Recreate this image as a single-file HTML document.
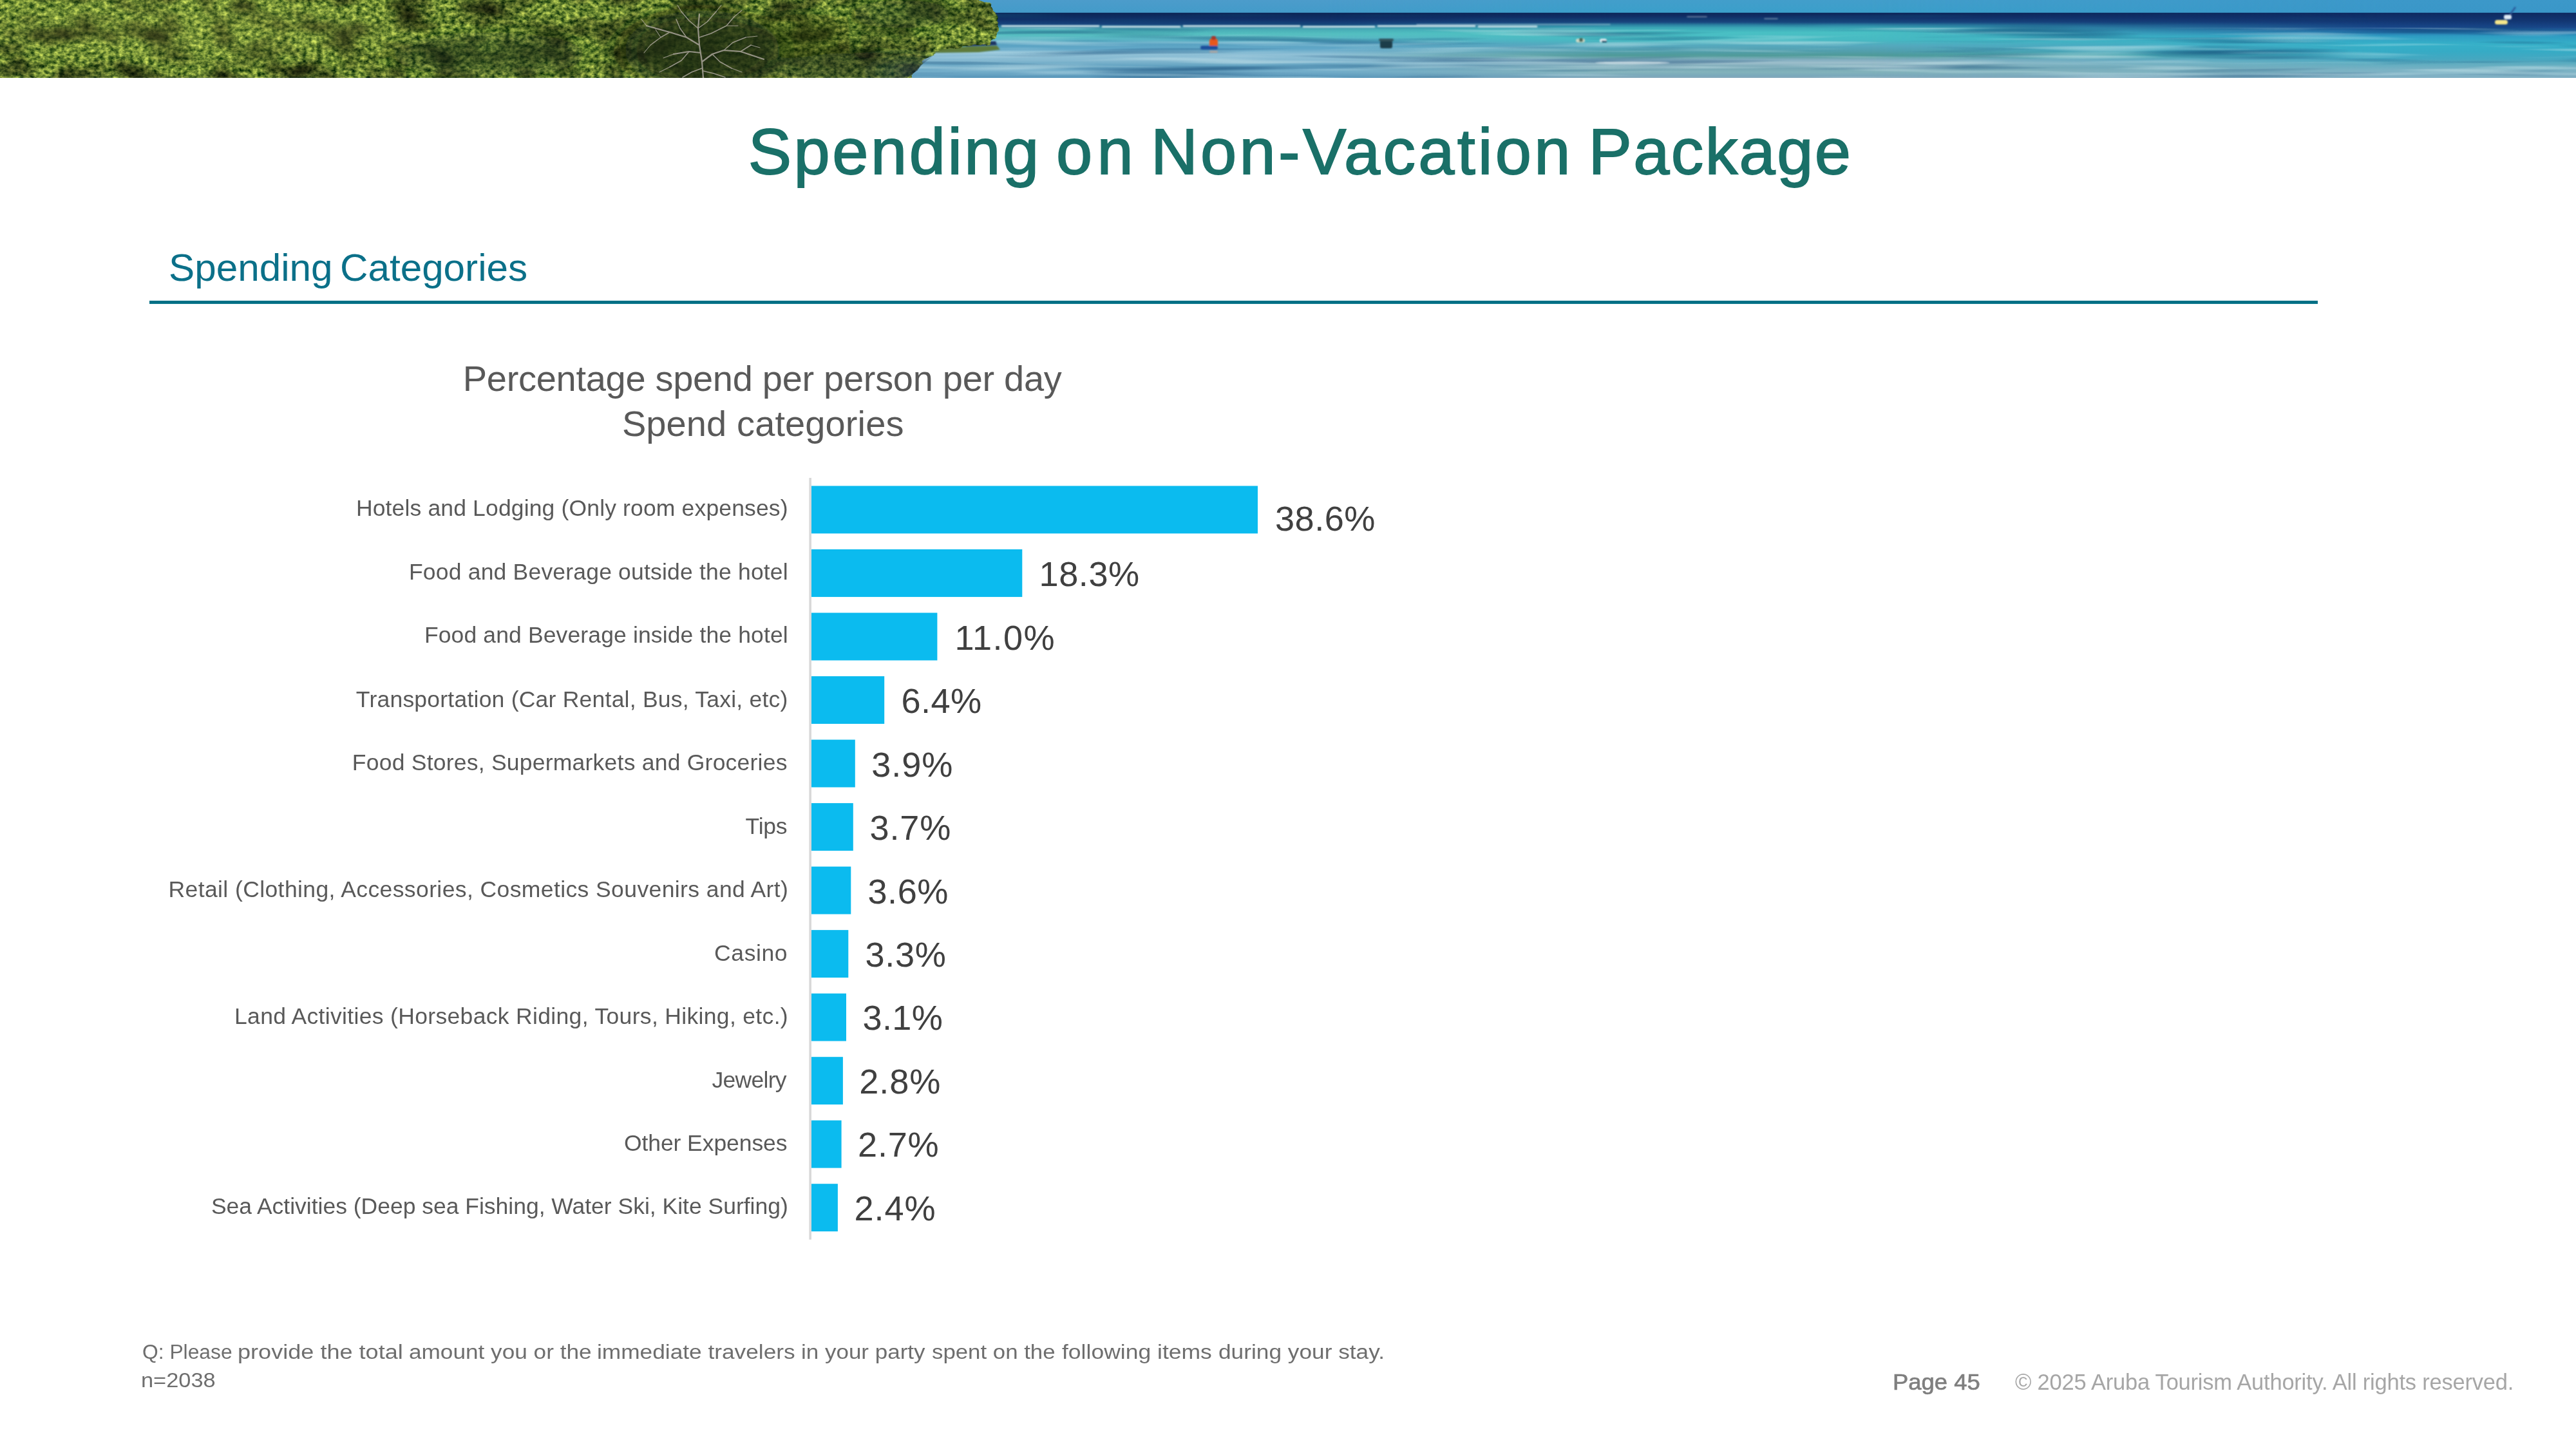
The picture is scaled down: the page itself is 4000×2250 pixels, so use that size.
<!DOCTYPE html>
<html lang="en">
<head>
<meta charset="utf-8">
<title>Spending on Non-Vacation Package</title>
<style>
html,body{margin:0;padding:0;background:#fff;}
body{width:4000px;height:2250px;position:relative;overflow:hidden;font-family:"Liberation Sans", sans-serif;}
.t{position:absolute;white-space:nowrap;transform-origin:0 0;font-family:"Liberation Sans", sans-serif;font-kerning:normal;}
#txt{position:absolute;left:0;top:0;width:4000px;height:2250px;will-change:transform;}
#chart{position:absolute;left:0;top:0;display:block;}
#banner{position:absolute;left:0;top:0;width:4000px;height:120.75px;overflow:hidden;background:#3f9fc4;}

</style>
</head>
<body>
<div id="banner">
<svg width="4000" height="121" viewBox="0 0 4000 121" preserveAspectRatio="none" style="position:absolute;left:0;top:0;display:block">
<defs>
<linearGradient id="seaL" x1="0" y1="0" x2="0" y2="120.5" gradientUnits="userSpaceOnUse">
<stop offset="0" stop-color="#4c9ccb"/><stop offset="0.160" stop-color="#439bc9"/><stop offset="0.168" stop-color="#0c2656"/>
<stop offset="0.25" stop-color="#103068"/><stop offset="0.31" stop-color="#17447c"/><stop offset="0.345" stop-color="#2e7f9f"/>
<stop offset="0.38" stop-color="#48acb6"/><stop offset="0.44" stop-color="#55bfc0"/><stop offset="0.50" stop-color="#5ab6c4"/>
<stop offset="0.56" stop-color="#58a2c2"/><stop offset="0.63" stop-color="#62a7c7"/><stop offset="0.70" stop-color="#8fc0d6"/>
<stop offset="0.78" stop-color="#84b8d0"/><stop offset="0.85" stop-color="#62a2c1"/><stop offset="0.92" stop-color="#74aeca"/><stop offset="1" stop-color="#5896b9"/>
</linearGradient>
<linearGradient id="seaM" x1="0" y1="0" x2="0" y2="120.5" gradientUnits="userSpaceOnUse">
<stop offset="0" stop-color="#429ecb"/><stop offset="0.160" stop-color="#3b9fca"/><stop offset="0.168" stop-color="#0d2759"/>
<stop offset="0.23" stop-color="#12316a"/><stop offset="0.285" stop-color="#19477e"/><stop offset="0.32" stop-color="#2a7fa0"/><stop offset="0.355" stop-color="#3aa5b5"/>
<stop offset="0.42" stop-color="#49c0c4"/><stop offset="0.52" stop-color="#48b9c2"/><stop offset="0.59" stop-color="#56a8bd"/>
<stop offset="0.655" stop-color="#529fae"/><stop offset="0.715" stop-color="#4f9a98"/><stop offset="0.77" stop-color="#83aec0"/>
<stop offset="0.81" stop-color="#9cbecb"/><stop offset="0.87" stop-color="#74a5b3"/><stop offset="0.93" stop-color="#82b2bb"/><stop offset="0.98" stop-color="#7aa8bb"/><stop offset="1" stop-color="#86a9bb"/>
</linearGradient>
<linearGradient id="seaR" x1="0" y1="0" x2="0" y2="120.5" gradientUnits="userSpaceOnUse">
<stop offset="0" stop-color="#3c98c9"/><stop offset="0.160" stop-color="#3a97c8"/><stop offset="0.168" stop-color="#0e2a60"/>
<stop offset="0.27" stop-color="#123672"/><stop offset="0.35" stop-color="#184688"/><stop offset="0.415" stop-color="#2472aa"/><stop offset="0.465" stop-color="#2e9cc2"/>
<stop offset="0.565" stop-color="#36b0c8"/><stop offset="0.665" stop-color="#36abc5"/><stop offset="0.765" stop-color="#46a7c0"/>
<stop offset="0.83" stop-color="#62adc0"/><stop offset="0.9" stop-color="#7ab2c4"/><stop offset="1" stop-color="#82b0c4"/>
</linearGradient>
<linearGradient id="fadeL" x1="1400" y1="0" x2="2500" y2="0" gradientUnits="userSpaceOnUse"><stop offset="0" stop-color="#fff"/><stop offset="0.6" stop-color="#fff"/><stop offset="1" stop-color="#000"/></linearGradient>
<linearGradient id="fadeR" x1="2900" y1="0" x2="3700" y2="0" gradientUnits="userSpaceOnUse"><stop offset="0" stop-color="#000"/><stop offset="1" stop-color="#fff"/></linearGradient>
<mask id="mL" maskUnits="userSpaceOnUse" x="0" y="0" width="4000" height="121"><rect x="0" y="0" width="4000" height="121" fill="url(#fadeL)"/></mask>
<mask id="mR" maskUnits="userSpaceOnUse" x="0" y="0" width="4000" height="121"><rect x="0" y="0" width="4000" height="121" fill="url(#fadeR)"/></mask>
<filter id="leaf" x="0" y="0" width="1600" height="121" filterUnits="userSpaceOnUse" color-interpolation-filters="sRGB">
<feTurbulence type="fractalNoise" baseFrequency="0.13 0.16" numOctaves="3" seed="11" result="n"/>
<feColorMatrix in="n" type="matrix" values="1.15 0 0 0 -0.15  1.05 0 0 0 0.01  0.5 0 0 0 -0.05  0 0 0 0 1" result="c"/>
<feTurbulence type="fractalNoise" baseFrequency="0.018 0.03" numOctaves="2" seed="5" result="n2"/>
<feColorMatrix in="n2" type="matrix" values="1.6 0 0 0 0.04  1.6 0 0 0 0.04  1.6 0 0 0 0.04  0 0 0 0 1" result="m"/>
<feBlend in="c" in2="m" mode="multiply" result="cm"/>
<feTurbulence type="fractalNoise" baseFrequency="0.05 0.07" numOctaves="2" seed="5" result="n3"/>
<feDisplacementMap in="SourceGraphic" in2="n3" scale="14" xChannelSelector="R" yChannelSelector="G" result="d"/>
<feComposite in="cm" in2="d" operator="in"/>
</filter>
<clipPath id="fclip"><path d="M0,0 L1520,0 L1545,10 L1550,22 L1552,48 L1549,60 L1543,68 L1500,72 L1455,80 L1445,90 L1432,100 L1424,110 L1408,121 L0,121Z"/></clipPath>
<filter id="blur8" x="-200" y="-100" width="2200" height="400" filterUnits="userSpaceOnUse"><feGaussianBlur stdDeviation="26 14"/></filter>
<filter id="blur2" x="-20" y="-20" width="4100" height="200" filterUnits="userSpaceOnUse"><feGaussianBlur stdDeviation="1.2"/></filter>
<filter id="strL" x="1400" y="43" width="2600" height="78" filterUnits="userSpaceOnUse" color-interpolation-filters="sRGB">
<feTurbulence type="fractalNoise" baseFrequency="0.0035 0.11" numOctaves="2" seed="21"/>
<feColorMatrix type="matrix" values="0 0 0 0 0.86  0 0 0 0 0.95  0 0 0 0 0.96  1.5 0 0 0 -0.77"/>
</filter>
<filter id="strD" x="1400" y="21" width="2600" height="100" filterUnits="userSpaceOnUse" color-interpolation-filters="sRGB">
<feTurbulence type="fractalNoise" baseFrequency="0.003 0.09" numOctaves="2" seed="4"/>
<feColorMatrix type="matrix" values="0 0 0 0 0.06  0 0 0 0 0.27  0 0 0 0 0.45  -1.7 0 0 0 0.8"/>
</filter>
</defs>
<rect x="0" y="0" width="4000" height="121" fill="url(#seaM)"/>
<rect x="0" y="0" width="4000" height="121" fill="url(#seaL)" mask="url(#mL)"/>
<rect x="0" y="0" width="4000" height="121" fill="url(#seaR)" mask="url(#mR)"/>
<rect x="1400" y="21" width="2600" height="100" fill="#fff" filter="url(#strD)"/>
<rect x="1400" y="43" width="2600" height="78" fill="#fff" filter="url(#strL)"/>
<!-- reflection strip under the mangrove -->
<g filter="url(#blur2)">
<path d="M1440,74 L1548,71 L1553,77 L1520,81 L1450,82Z" fill="#5f7a3a"/>
<path d="M1500,66 L1546,64 L1548,70 L1500,72Z" fill="#1d3560"/>
<!-- swimmer -->
<rect x="1878" y="60" width="13" height="13" rx="4" fill="#e8581f"/><rect x="1881" y="56" width="7" height="6" rx="2.5" fill="#a8382a"/><rect x="1864" y="71" width="27" height="6" rx="3" fill="#1c4f9c"/><rect x="1878" y="79" width="13" height="3" rx="1.5" fill="#d9a58c" opacity=".6"/>
<!-- boat -->
<rect x="2143" y="63" width="19" height="12" rx="3" fill="#1d3c4a"/><rect x="2141" y="60" width="23" height="4" rx="2" fill="#31525c"/>
<!-- distant swimmers -->
<rect x="2447" y="60" width="14" height="6" rx="3" fill="#c9d6c4"/><rect x="2452" y="59" width="6" height="6" rx="2" fill="#4d6b5c"/>
<rect x="2484" y="60" width="11" height="6" rx="3" fill="#dfeaf0"/><rect x="2487" y="63" width="8" height="3" rx="1" fill="#2f5a70"/>
<!-- buoy -->
<rect x="3874" y="31" width="20" height="7" rx="3.5" fill="#f4e58a"/><rect x="3888" y="23" width="12" height="7" rx="3" fill="#dfeaf4"/><path d="M3898,22 L3906,11" stroke="#2b5a9a" stroke-width="2.5"/>
<!-- foam streaks -->
<ellipse cx="2535" cy="97.5" rx="58" ry="2" fill="#e9f4f5" opacity=".7"/>
<path d="M1556,40.5 h150 M1712,41.5 h120 M1838,40.5 h180 M2024,41.5 h110 M2140,40.5 h150 M2296,41.2 h90" stroke="#e6f2f4" stroke-width="3" stroke-linecap="round" opacity=".8"/>
<path d="M2200,38 h300 M2620,26 h30 M2740,29 h20" stroke="#dbe9f0" stroke-width="1.5" stroke-linecap="round" opacity=".5"/>
</g>
<!-- foliage -->
<g filter="url(#leaf)"><path d="M-20,-20 L1512,-20 L1518,0 L1540,9 L1546,22 L1548,48 L1545,60 L1538,68 L1495,72 L1452,80 L1441,90 L1428,100 L1420,110 L1404,140 L-20,140Z" fill="#5d8a2e"/></g>
<g clip-path="url(#fclip)" filter="url(#blur8)">
<ellipse cx="1090" cy="78" rx="120" ry="62" fill="#16260f" opacity=".8"/>
<ellipse cx="1330" cy="108" rx="120" ry="26" fill="#14240f" opacity=".5"/>
<ellipse cx="760" cy="85" rx="150" ry="35" fill="#1b3012" opacity=".4"/>
<ellipse cx="1400" cy="22" rx="80" ry="22" fill="#1b3012" opacity=".45"/>
<ellipse cx="1250" cy="60" rx="70" ry="40" fill="#1b3012" opacity=".3"/>
<ellipse cx="300" cy="45" rx="320" ry="45" fill="#c3d65a" opacity=".14"/>
<ellipse cx="1430" cy="113" rx="60" ry="12" fill="#243a5a" opacity=".6"/>
</g>
<g clip-path="url(#fclip)" fill="none" stroke="#b5ada6" stroke-linecap="round" stroke-linejoin="round" opacity=".78">
<path stroke-width="2.2" d="M1092,121 L1090,96 L1086,70 L1084,44 L1086,22 M1090,96 L1106,84 L1124,78 L1150,80 L1186,92 M1086,70 L1066,58 L1040,50 L1004,40 M1088,82 L1070,80 L1046,84"/>
<path stroke-width="1.5" d="M1084,44 L1070,32 L1058,18 M1084,44 L1098,34 L1112,18 M1086,58 L1104,52 L1128,40 L1140,26 M1066,58 L1056,44 L1050,30 M1040,50 L1026,58 L1010,70 M1124,78 L1138,66 L1158,58 M1106,84 L1118,96 L1136,106 M1150,80 L1166,70 M1070,80 L1058,94 L1040,104 M1090,106 L1074,112 L1060,120 M1091,110 L1108,114 L1126,120"/>
<path stroke-width="1.1" d="M1058,18 L1052,8 M1112,18 L1120,8 M1128,40 L1146,40 M1004,40 L996,30 M1010,70 L1000,82 M1158,58 L1176,56 M1136,106 L1152,112 M1040,104 L1024,112 M1026,58 L1018,46 M1140,26 L1152,16 M1166,70 L1180,74 M1046,84 L1030,90"/>
</g>
</svg>
</div>

<svg id="chart" width="4000" height="2250" viewBox="0 0 4000 2250"><rect x="232" y="466.9" width="3367" height="5" fill="#006f85"/><rect x="1256.4" y="742" width="3.5" height="1182.8" fill="#d8d8d8"/><g fill="#0bbbef"><rect x="1260" y="754.5" width="693" height="73.9"/><rect x="1260" y="853.02" width="327.3" height="73.9"/><rect x="1260" y="951.54" width="195.4" height="73.9"/><rect x="1260" y="1050.06" width="113.2" height="73.9"/><rect x="1260" y="1148.58" width="67.8" height="73.9"/><rect x="1260" y="1247.1" width="64.8" height="73.9"/><rect x="1260" y="1345.62" width="61.3" height="73.9"/><rect x="1260" y="1444.14" width="57.3" height="73.9"/><rect x="1260" y="1542.66" width="54" height="73.9"/><rect x="1260" y="1641.18" width="48.9" height="73.9"/><rect x="1260" y="1739.7" width="46.6" height="73.9"/><rect x="1260" y="1838.22" width="40.9" height="73.9"/></g></svg>
<div id="txt">
<span class="t" style="left:1161.7px;top:185px;font-size:101px;line-height:101px;color:#1a7068;letter-spacing:3.53px;-webkit-text-stroke:1.8px #1a7068;">Spending </span>
<span class="t" style="left:1639.9px;top:185px;font-size:101px;line-height:101px;color:#1a7068;letter-spacing:7.43px;-webkit-text-stroke:1.8px #1a7068;">on </span>
<span class="t" style="left:1786.9px;top:185px;font-size:101px;line-height:101px;color:#1a7068;letter-spacing:4.28px;-webkit-text-stroke:1.8px #1a7068;">Non-Vacation </span>
<span class="t" style="left:2466.4px;top:185px;font-size:101px;line-height:101px;color:#1a7068;letter-spacing:2.42px;-webkit-text-stroke:1.8px #1a7068;">Package</span>
<span class="t" style="left:261.96px;top:387px;font-size:59px;line-height:59px;color:#0b7089;transform:scaleX(1.0211);">Spending </span>
<span class="t" style="left:527.64px;top:387px;font-size:59px;line-height:59px;color:#0b7089;transform:scaleX(1.0202);">Categories</span>
<span class="t" style="left:718.8px;top:560px;font-size:56px;line-height:56px;color:#595959;letter-spacing:-0.3px;">Percentage spend per person per day</span>
<span class="t" style="left:965.9px;top:630px;font-size:56px;line-height:56px;color:#595959;letter-spacing:0.11px;">Spend categories</span>
<span class="t" style="left:552.9px;top:772px;font-size:35.5px;line-height:35.5px;color:#595959;letter-spacing:0.15px;">Hotels and Lodging (Only room expenses)</span>
<span class="t" style="left:635px;top:871px;font-size:35.5px;line-height:35.5px;color:#595959;letter-spacing:0.19px;">Food and Beverage outside the hotel</span>
<span class="t" style="left:658.9px;top:969px;font-size:35.5px;line-height:35.5px;color:#595959;letter-spacing:0.13px;">Food and Beverage inside the hotel</span>
<span class="t" style="left:552.8px;top:1069px;font-size:35.5px;line-height:35.5px;color:#595959;letter-spacing:0.23px;">Transportation (Car Rental, Bus, Taxi, etc)</span>
<span class="t" style="left:546.8px;top:1167px;font-size:35.5px;line-height:35.5px;color:#595959;letter-spacing:0.23px;">Food Stores, Supermarkets and Groceries</span>
<span class="t" style="left:1157.5px;top:1266px;font-size:35.5px;line-height:35.5px;color:#595959;letter-spacing:-0.23px;">Tips</span>
<span class="t" style="left:261.5px;top:1364px;font-size:35.5px;line-height:35.5px;color:#595959;letter-spacing:0.4px;">Retail (Clothing, Accessories, Cosmetics Souvenirs and Art)</span>
<span class="t" style="left:1109.1px;top:1463px;font-size:35.5px;line-height:35.5px;color:#595959;letter-spacing:0.59px;">Casino</span>
<span class="t" style="left:364px;top:1561px;font-size:35.5px;line-height:35.5px;color:#595959;letter-spacing:0.33px;">Land Activities (Horseback Riding, Tours, Hiking, etc.)</span>
<span class="t" style="left:1105.4px;top:1660px;font-size:35.5px;line-height:35.5px;color:#595959;letter-spacing:-0.7px;">Jewelry</span>
<span class="t" style="left:968.9px;top:1758px;font-size:35.5px;line-height:35.5px;color:#595959;letter-spacing:-0.07px;">Other Expenses</span>
<span class="t" style="left:327.9px;top:1856px;font-size:35.5px;line-height:35.5px;color:#595959;letter-spacing:-0.01px;">Sea Activities (Deep sea Fishing, Water Ski, Kite Surfing)</span>
<span class="t" style="left:1980px;top:778px;font-size:54.17px;line-height:54.17px;color:#404040;letter-spacing:0.45px;">38.6%</span>
<span class="t" style="left:1613.6px;top:864px;font-size:54.17px;line-height:54.17px;color:#404040;letter-spacing:0.5px;">18.3%</span>
<span class="t" style="left:1482.4px;top:963px;font-size:54.17px;line-height:54.17px;color:#404040;letter-spacing:1.45px;">11.0%</span>
<span class="t" style="left:1399.4px;top:1061px;font-size:54.17px;line-height:54.17px;color:#404040;letter-spacing:0.43px;">6.4%</span>
<span class="t" style="left:1353.3px;top:1160px;font-size:54.17px;line-height:54.17px;color:#404040;letter-spacing:0.9px;">3.9%</span>
<span class="t" style="left:1350.5px;top:1258px;font-size:54.17px;line-height:54.17px;color:#404040;letter-spacing:0.8px;">3.7%</span>
<span class="t" style="left:1347.5px;top:1357px;font-size:54.17px;line-height:54.17px;color:#404040;letter-spacing:0.5px;">3.6%</span>
<span class="t" style="left:1343.5px;top:1455px;font-size:54.17px;line-height:54.17px;color:#404040;letter-spacing:0.67px;">3.3%</span>
<span class="t" style="left:1339.4px;top:1553px;font-size:54.17px;line-height:54.17px;color:#404040;letter-spacing:0.37px;">3.1%</span>
<span class="t" style="left:1334.3px;top:1652px;font-size:54.17px;line-height:54.17px;color:#404040;letter-spacing:0.93px;">2.8%</span>
<span class="t" style="left:1332.1px;top:1750px;font-size:54.17px;line-height:54.17px;color:#404040;letter-spacing:0.73px;">2.7%</span>
<span class="t" style="left:1326.4px;top:1849px;font-size:54.17px;line-height:54.17px;color:#404040;letter-spacing:0.93px;">2.4%</span>
<span class="t" style="left:220.67px;top:2084px;font-size:31px;line-height:31px;color:#6e6e6e;transform:scaleX(1.0255);">Q: Please </span>
<span class="t" style="left:369.17px;top:2084px;font-size:31px;line-height:31px;color:#6e6e6e;transform:scaleX(1.1642);">provide the total </span>
<span class="t" style="left:634.57px;top:2084px;font-size:31px;line-height:31px;color:#6e6e6e;transform:scaleX(1.1347);">amount you or the </span>
<span class="t" style="left:926.63px;top:2084px;font-size:31px;line-height:31px;color:#6e6e6e;transform:scaleX(1.1374);">immediate travelers </span>
<span class="t" style="left:1244.14px;top:2084px;font-size:31px;line-height:31px;color:#6e6e6e;transform:scaleX(1.1285);">in your party </span>
<span class="t" style="left:1447.3px;top:2084px;font-size:31px;line-height:31px;color:#6e6e6e;transform:scaleX(1.1228);">spent on the </span>
<span class="t" style="left:1648.7px;top:2084px;font-size:31px;line-height:31px;color:#6e6e6e;transform:scaleX(1.1454);">following items </span>
<span class="t" style="left:1892.16px;top:2084px;font-size:31px;line-height:31px;color:#6e6e6e;transform:scaleX(1.1372);">during your stay.</span>
<span class="t" style="left:219.18px;top:2128px;font-size:31px;line-height:31px;color:#6e6e6e;transform:scaleX(1.1091);">n=2038</span>
<span class="t" style="left:2938.68px;top:2128px;font-size:35px;line-height:35px;color:#7f7f7f;transform:scaleX(1.0412);-webkit-text-stroke:0.7px #7f7f7f;">Page 45</span>
<span class="t" style="left:3129px;top:2129px;font-size:34.5px;line-height:34.5px;color:#a6a6a6;letter-spacing:-0.22px;">© 2025 Aruba Tourism Authority. All rights reserved.</span>
</div>
</body>
</html>
